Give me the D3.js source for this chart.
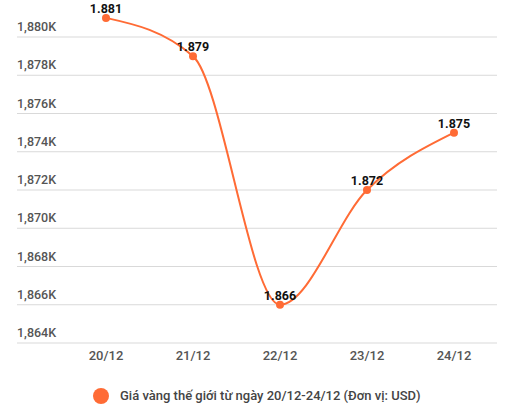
<!DOCTYPE html>
<html>
<head>
<meta charset="utf-8">
<script src="https://cdn.jsdelivr.net/npm/d3@7"></script>
<style>
  body { margin: 0; background: #fff; }
  svg { font-family: Roboto, "Noto Sans", sans-serif; }
</style>
</head>
<body>
<div id="chart"></div>
<script>
const days = ["20/12", "21/12", "22/12", "23/12", "24/12"];
const prices = [1881, 1879, 1866, 1872, 1875];
const priceLabels = ["1.881", "1.879", "1.866", "1.872", "1.875"];
const yTicks = [1864, 1866, 1868, 1870, 1872, 1874, 1876, 1878, 1880];
const legendText = "Giá vàng thế giới từ ngày 20/12-24/12 (Đơn vị: USD)";

const width = 517;
const height = 415;
const color = "#ff6b35";

const svg = d3.select("#chart").append("svg")
  .attr("width", width)
  .attr("height", height);

const x = d3.scaleBand().domain(days).range([62.5, 497.5]);
const y = d3.scaleLinear().domain([1864, 1880]).range([343, 37]);

// grid + y labels
const yAxis = svg.append("g");
yAxis.selectAll("line")
  .data(yTicks)
  .enter()
  .append("line")
  .attr("x1", 17)
  .attr("x2", 497)
  .attr("y1", (d) => y(d))
  .attr("y2", (d) => y(d))
  .attr("stroke", "#d9d9d9")
  .attr("stroke-width", 1);
yAxis.selectAll("text")
  .data(yTicks)
  .enter()
  .append("text")
  .attr("x", 17)
  .attr("y", (d) => y(d) - 6)
  .attr("fill", "#555")
  .attr("font-size", 12.5)
  .attr("font-weight", 500)
  .text((d) => d3.format(",")(d) + "K");

// x labels
svg.append("g")
  .selectAll("text")
  .data(days)
  .enter()
  .append("text")
  .attr("x", (d) => x(d) + x.bandwidth() / 2)
  .attr("y", 360)
  .attr("text-anchor", "middle")
  .attr("fill", "#555")
  .attr("font-size", 13)
  .attr("font-weight", 500)
  .text((d) => d);

const pts = days.map((d, i) => ({ day: d, value: prices[i], label: priceLabels[i] }));

const line = d3.line()
  .x((d) => x(d.day) + x.bandwidth() / 2)
  .y((d) => y(d.value))
  .curve(d3.curveMonotoneX);

svg.append("path")
  .datum(pts)
  .attr("d", line)
  .attr("fill", "none")
  .attr("stroke", color)
  .attr("stroke-width", 2);

svg.selectAll("circle.pt")
  .data(pts)
  .enter()
  .append("circle")
  .attr("class", "pt")
  .attr("cx", (d) => x(d.day) + x.bandwidth() / 2)
  .attr("cy", (d) => y(d.value))
  .attr("r", 4)
  .attr("fill", color);

svg.selectAll("text.val")
  .data(pts)
  .enter()
  .append("text")
  .attr("class", "val")
  .attr("x", (d) => x(d.day) + x.bandwidth() / 2)
  .attr("y", (d) => y(d.value) - 5)
  .attr("text-anchor", "middle")
  .attr("fill", "#111")
  .attr("font-size", 12.5)
  .attr("font-weight", 700)
  .text((d) => d.label);

// legend
const legend = svg.append("g");
legend.append("circle")
  .attr("cx", 101)
  .attr("cy", 396)
  .attr("r", 8)
  .attr("fill", color);
legend.append("text")
  .attr("x", 120)
  .attr("y", 400)
  .attr("fill", "#444")
  .attr("font-size", 13)
  .attr("font-weight", 500)
  .text(legendText);
</script>
</body>
</html>
